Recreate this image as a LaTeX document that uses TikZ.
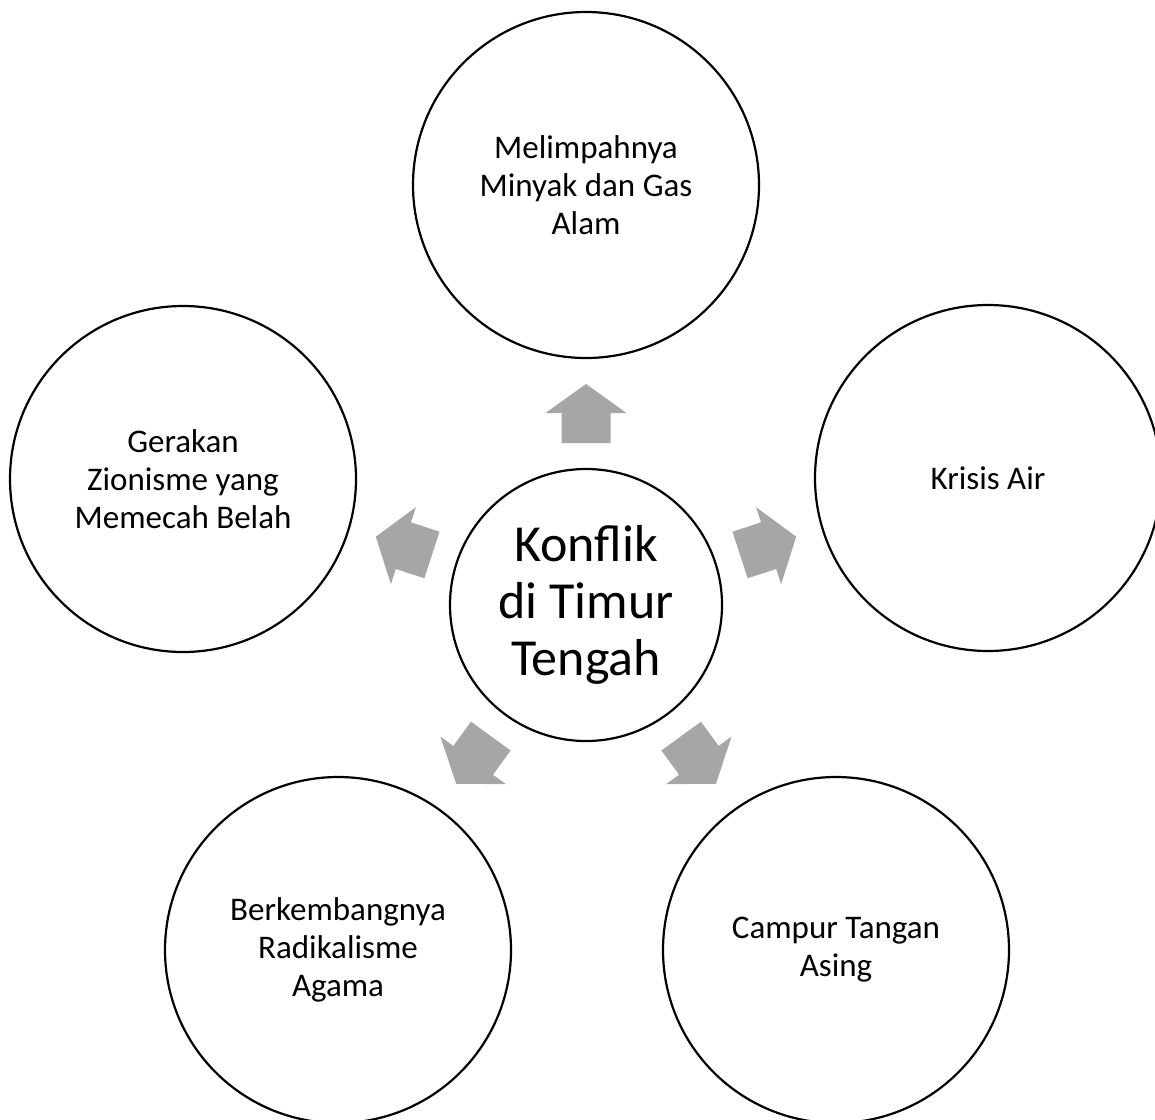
\documentclass[tikz,border=0pt]{standalone}
\usepackage{fontspec}
\setmainfont{Carlito}
\usetikzlibrary{calc}
\definecolor{arrowgray}{HTML}{A6A6A6}
\tikzset{
  outer/.style={circle, draw=black, line width=2.2pt, minimum size=346pt, inner sep=0pt, align=center, font=\fontsize{33}{38}\selectfont},
  inner/.style={circle, draw=black, line width=2.2pt, minimum size=272pt, inner sep=0pt, align=center, fill=white, font=\fontsize{52}{57}\selectfont},
  blockarrow/.style={fill=arrowgray, draw=none}
}
\begin{document}
\begin{tikzpicture}[x=1pt,y=1pt]
\useasboundingbox (0,0) rectangle (1155,-1119);
\clip (0,0) rectangle (1155,-1119);
\coordinate (C) at (586,-605);
\node[inner] (center) at (C) {Konflik\\di Timur\\Tengah};
\node[outer] (top) at (586,-185) {Melimpahnya\\Minyak dan Gas\\Alam};
\node[outer] (right) at (988,-478) {Krisis Air};
\node[outer] (bright) at (836,-950) {Campur Tangan\\Asing};
\node[outer] (bleft) at (338,-950) {Berkembangnya\\Radikalisme\\Agama};
\node[outer] (left) at (183,-479) {Gerakan\\Zionisme yang\\Memecah Belah};
\foreach \a in {90,18,-54,-126,162}{
  \fill[blockarrow, shift={(C)}, rotate=\a] (162,-24.5) -- (192,-24.5) -- (192,-40.5) -- (221,0) -- (192,40.5) -- (192,24.5) -- (162,24.5) -- cycle;
}
\end{tikzpicture}
\end{document}
